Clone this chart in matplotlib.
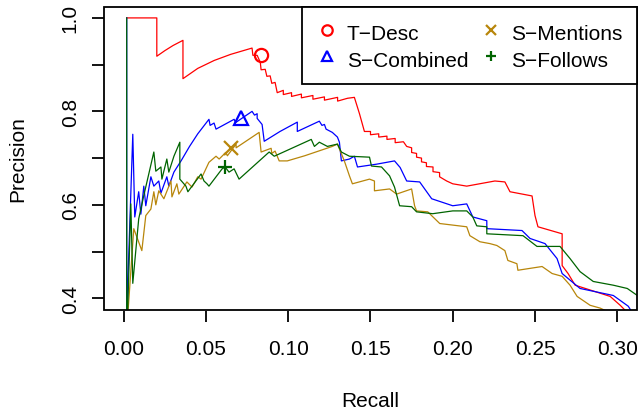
"""
Precision-recall curves of the four ranking methods, R-style figure.
"""
import matplotlib
matplotlib.use("Agg")
import matplotlib.pyplot as plt
from matplotlib.lines import Line2D
from matplotlib.patches import Rectangle


OUTPUT = "out.png"

LABELS = ["T\u2212Desc", "S\u2212Combined", "S\u2212Mentions", "S\u2212Follows"]
COLORS = ["#FF0000", "#0000FF", "#B8860B", "#006400"]
MARKERS = ["o", "^", "x", "+"]

# marked operating point of each method (recall, precision)
POINT_RECALL = [0.0833, 0.0711, 0.0654, 0.0616]
POINT_PRECISION = [0.920, 0.786, 0.7206, 0.680]

T_DESC_RECALL = [
    0.0018, 0.0201, 0.0201, 0.025, 0.030, 0.036, 0.036, 0.045, 0.055, 0.065,
    0.078, 0.0785, 0.0811, 0.083, 0.0835, 0.086, 0.087, 0.089, 0.090, 0.092,
    0.0933, 0.097, 0.097, 0.102, 0.102, 0.108, 0.108, 0.115, 0.115, 0.122,
    0.122, 0.130, 0.130, 0.136, 0.1402, 0.1433, 0.1463, 0.150, 0.150, 0.155,
    0.155, 0.160, 0.160, 0.165, 0.165, 0.170, 0.172, 0.175, 0.175, 0.178,
    0.178, 0.181, 0.181, 0.184, 0.184, 0.188, 0.188, 0.192, 0.192, 0.1963,
    0.2, 0.2085, 0.2256, 0.2317, 0.2348, 0.2482, 0.25, 0.2518, 0.2665,
    0.2665, 0.2701, 0.2744, 0.2957, 0.3018, 0.306,
]
T_DESC_PRECISION = [
    1.0, 1.0, 0.918, 0.930, 0.941, 0.952, 0.870, 0.892, 0.909, 0.922,
    0.9355, 0.920, 0.920, 0.905, 0.889, 0.890, 0.875, 0.876, 0.860, 0.862,
    0.840, 0.845, 0.836, 0.840, 0.832, 0.837, 0.829, 0.834, 0.826, 0.831,
    0.824, 0.830, 0.822, 0.828, 0.830, 0.795, 0.757, 0.757, 0.750, 0.752,
    0.745, 0.747, 0.740, 0.742, 0.733, 0.735, 0.725, 0.722, 0.712, 0.710,
    0.702, 0.700, 0.692, 0.690, 0.682, 0.681, 0.671, 0.669, 0.660, 0.651,
    0.645, 0.640, 0.651, 0.649, 0.628, 0.619, 0.577, 0.553, 0.538,
    0.470, 0.453, 0.428, 0.404, 0.385, 0.370,
]

S_COMBINED_RECALL = [
    0.0018, 0.0018, 0.0055, 0.0067, 0.0091, 0.0104, 0.0122, 0.0134, 0.0165,
    0.0183, 0.0213, 0.0226, 0.0262, 0.0274, 0.0305, 0.035, 0.040, 0.045,
    0.0518, 0.0525, 0.0549, 0.0561, 0.0671, 0.068, 0.078, 0.0795, 0.0811,
    0.0811, 0.0841, 0.0854, 0.095, 0.1055, 0.1055, 0.1189, 0.1205, 0.122,
    0.123, 0.1268, 0.1299, 0.1311, 0.1323, 0.1372, 0.1402, 0.1421, 0.1537,
    0.1646, 0.168, 0.172, 0.1799, 0.1872, 0.2, 0.2085, 0.2122, 0.2207,
    0.2207, 0.2421, 0.247, 0.2561, 0.2634, 0.2665, 0.2774, 0.2976, 0.3067,
    0.309,
]
S_COMBINED_PRECISION = [
    1.0, 0.36, 0.751, 0.574, 0.628, 0.580, 0.640, 0.598, 0.660,
    0.640, 0.651, 0.625, 0.660, 0.640, 0.670, 0.695, 0.725, 0.752,
    0.783, 0.770, 0.775, 0.762, 0.783, 0.776, 0.800, 0.792, 0.795,
    0.785, 0.772, 0.736, 0.757, 0.777, 0.757, 0.779, 0.770, 0.772,
    0.762, 0.755, 0.745, 0.734, 0.694, 0.698, 0.704, 0.681, 0.687,
    0.694, 0.680, 0.651, 0.649, 0.613, 0.598, 0.602, 0.574, 0.566,
    0.549, 0.545, 0.528, 0.517, 0.485, 0.453, 0.421, 0.406, 0.383,
    0.370,
]

S_MENTIONS_RECALL = [
    0.0012, 0.0061, 0.011, 0.0134, 0.0165, 0.0183, 0.0195, 0.0213, 0.0244,
    0.0287, 0.0293, 0.0323, 0.0335, 0.0384, 0.0415, 0.045, 0.047, 0.0518,
    0.0561, 0.058, 0.062, 0.063, 0.0683, 0.0683, 0.0823, 0.0835, 0.0896,
    0.090, 0.092, 0.0945, 0.0994, 0.110, 0.1268, 0.1299, 0.1341, 0.1372,
    0.139, 0.1494, 0.1524, 0.1524, 0.1616, 0.1659, 0.175, 0.1768, 0.178,
    0.1848, 0.1921, 0.2085, 0.2104, 0.2165, 0.2226, 0.2268, 0.2317, 0.2335,
    0.239, 0.2396, 0.2543, 0.2604, 0.2665, 0.2713, 0.2756, 0.2835, 0.2896,
    0.295,
]
S_MENTIONS_PRECISION = [
    0.30, 0.549, 0.502, 0.577, 0.591, 0.628, 0.600, 0.630, 0.613,
    0.651, 0.617, 0.645, 0.623, 0.649, 0.638, 0.660, 0.655, 0.691,
    0.704, 0.698, 0.712, 0.705, 0.730, 0.722, 0.755, 0.713, 0.721,
    0.710, 0.715, 0.694, 0.694, 0.705, 0.725, 0.730, 0.694, 0.662,
    0.645, 0.655, 0.651, 0.630, 0.634, 0.623, 0.634, 0.598, 0.587,
    0.585, 0.560, 0.553, 0.534, 0.521, 0.517, 0.513, 0.502, 0.481,
    0.474, 0.460, 0.468, 0.453, 0.447, 0.428, 0.404, 0.385, 0.379,
    0.370,
]

S_FOLLOWS_RECALL = [
    0.0018, 0.0018, 0.0043, 0.0055, 0.0091, 0.0122, 0.0183, 0.0195, 0.0226,
    0.0232, 0.0262, 0.0274, 0.0305, 0.0341, 0.0341, 0.0378, 0.039, 0.047,
    0.0488, 0.0506, 0.0518, 0.0598, 0.0616, 0.064, 0.0671, 0.0701, 0.0884,
    0.0915, 0.114, 0.1159, 0.1189, 0.1238, 0.1299, 0.1323, 0.1372, 0.1494,
    0.1506, 0.1567, 0.1616, 0.1646, 0.1677, 0.175, 0.178, 0.1878, 0.2,
    0.2085, 0.2122, 0.2146, 0.2207, 0.2207, 0.2427, 0.2512, 0.2652, 0.2713,
    0.2774, 0.2854, 0.2976, 0.3061, 0.3122, 0.315,
]
S_FOLLOWS_PRECISION = [
    1.0, 0.30, 0.602, 0.432, 0.570, 0.620, 0.713, 0.672, 0.681,
    0.655, 0.698, 0.670, 0.704, 0.734, 0.655, 0.640, 0.628, 0.666,
    0.651, 0.645, 0.640, 0.677, 0.681, 0.670, 0.677, 0.655, 0.713,
    0.704, 0.740, 0.725, 0.734, 0.725, 0.730, 0.713, 0.704, 0.702,
    0.683, 0.681, 0.662, 0.638, 0.598, 0.596, 0.585, 0.581, 0.587,
    0.587, 0.574, 0.555, 0.553, 0.538, 0.534, 0.511, 0.511, 0.485,
    0.457, 0.436, 0.428, 0.421, 0.406, 0.400,
]

X_TICKS = [0.00, 0.05, 0.10, 0.15, 0.20, 0.25, 0.30]
X_TICK_LABELS = ["0.00", "0.05", "0.10", "0.15", "0.20", "0.25", "0.30"]
Y_TICKS = [0.4, 0.5, 0.6, 0.7, 0.8, 0.9, 1.0]
Y_TICK_LABELS = ["0.4", "", "0.6", "", "0.8", "", "1.0"]


if __name__ == "__main__":
    plt.rcParams["font.family"] = ["Liberation Sans", "DejaVu Sans"]
    plt.rcParams["font.size"] = 15

    fig = plt.figure(figsize=(6.4, 4.14), dpi=100)
    ax = fig.add_axes([0.1625, 0.25, 0.8328, 0.7314])

    curves = [
        (T_DESC_RECALL, T_DESC_PRECISION),
        (S_COMBINED_RECALL, S_COMBINED_PRECISION),
        (S_MENTIONS_RECALL, S_MENTIONS_PRECISION),
        (S_FOLLOWS_RECALL, S_FOLLOWS_PRECISION),
    ]
    for (rec, prec), col in zip(curves, COLORS):
        ax.plot(rec, prec, color=col, lw=0.9)

    for i in range(4):
        face = "none" if MARKERS[i] in ("o", "^") else COLORS[i]
        ax.plot(POINT_RECALL[i], POINT_PRECISION[i], ls="none",
                marker=MARKERS[i], ms=9.5, mew=1.6,
                mec=COLORS[i], mfc=face, clip_on=False)

    ax.set_xlim(-0.012, 0.312)
    ax.set_ylim(0.376, 1.024)

    # R-like box: frame drawn separately, x axis line slightly outside
    for side in ax.spines:
        ax.spines[side].set_visible(False)
    ax.spines["bottom"].set_position(("outward", 1.2))
    ax.add_patch(Rectangle((0, 0), 1, 1, transform=ax.transAxes, fill=False,
                           ec="black", lw=1.3, clip_on=False, zorder=5))

    ax.set_xticks(X_TICKS)
    ax.set_xticklabels(X_TICK_LABELS)
    ax.set_yticks(Y_TICKS)
    ax.set_yticklabels(Y_TICK_LABELS, rotation=90, va="center")
    ax.tick_params(axis="x", direction="out", length=8, width=1.3, pad=12)
    ax.tick_params(axis="y", direction="out", length=8.5, width=1.3, pad=9)

    ax.set_xlabel("Recall", labelpad=24)
    ax.set_ylabel("Precision", labelpad=24)

    handles = [
        Line2D([], [], ls="none", marker=m, ms=7.5, mew=1.6, color=c,
               mfc="none" if m in ("o", "^") else c)
        for m, c in zip(MARKERS, COLORS)
    ]
    leg = ax.legend(handles, LABELS, ncol=2, loc="upper right",
                    bbox_to_anchor=(1, 1), borderaxespad=0, fancybox=False,
                    framealpha=1, edgecolor="black", handlelength=1.0,
                    handleheight=1.25, handletextpad=0.45, columnspacing=0.6,
                    borderpad=0.7, labelspacing=0.2, fontsize=15)
    leg.get_frame().set_linewidth(1.3)
    leg.set_zorder(6)

    fig.savefig(OUTPUT, dpi=100)
